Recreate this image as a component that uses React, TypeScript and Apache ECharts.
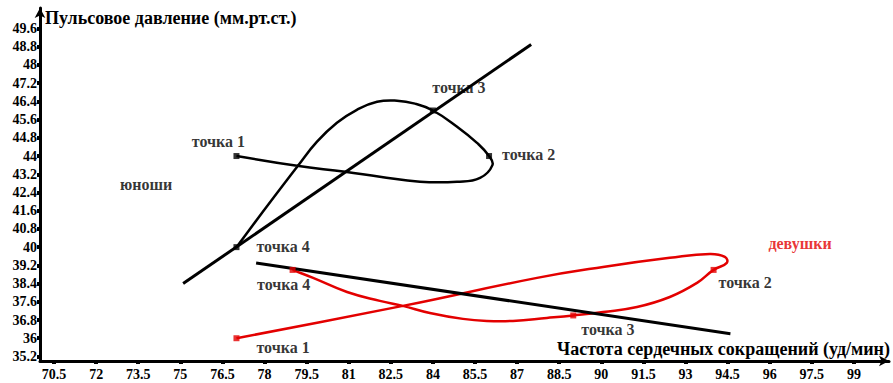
import React, { useEffect, useRef } from "react";
import * as echarts from "echarts";

// Axis tick values
const xTicks = [70.5, 72, 73.5, 75, 76.5, 78, 79.5, 81, 82.5, 84, 85.5, 87, 88.5, 90, 91.5, 93, 94.5, 96, 97.5, 99];
const yTicks = [35.2, 36, 36.8, 37.6, 38.4, 39.2, 40, 40.8, 41.6, 42.4, 43.2, 44, 44.8, 45.6, 46.4, 47.2, 48, 48.8, 49.6];

// Point names
const pointNames = ["точка 1", "точка 2", "точка 3", "точка 4"];

// Юноши (boys): key points and traced curve
const boysPoints: [number, number][] = [[77, 44], [86, 44], [84, 46], [77, 40]];
const boysCurve: [number, number][] = [
  [77, 44], [79.16, 43.57], [80.87, 43.31], [82.11, 43.09], [83.54, 42.87],
  [84.86, 42.87], [85.68, 43.04], [86.12, 43.6], [86, 44], [85.57, 44.58],
  [84.86, 45.29], [84, 46], [83.36, 46.3], [82.72, 46.43], [82.01, 46.38],
  [81.29, 46.03], [80.58, 45.46], [79.87, 44.63], [79.19, 43.57],
  [77.94, 41.55], [77, 40],
];
const boysTrend: [number, number][] = [[75.1, 38.4], [87.5, 48.9]];

// Девушки (girls): key points and traced curve
const girlsPoints: [number, number][] = [[77, 36], [94, 39], [89, 37], [79, 39]];
const girlsCurve: [number, number][] = [
  [77, 36], [82.93, 37.42], [87.71, 38.65], [90.06, 39.13], [92.44, 39.53],
  [93.87, 39.7], [94.4, 39.57], [94.47, 39.31], [94, 39], [93.41, 38.43],
  [92.44, 37.81], [91.27, 37.37], [90.06, 37.15], [89, 37], [88.06, 36.89],
  [86.85, 36.76], [85.92, 36.76], [85.07, 36.85], [83.89, 37.11], [82.93, 37.42],
  [82.11, 37.64], [80.94, 38.03], [79.73, 38.65], [79, 39],
];
const girlsTrend: [number, number][] = [[77.7, 39.3], [94.6, 36.2]];

// Group captions
const groupNames = ["юноши", "девушки"];
const groupCaptionAt: [number, number][] = [[73.78, 42.74], [97.08, 40.14]];

const RED = "#e30000";
const FONT = "Liberation Serif";

const boysLabelStyle = [
  { position: "top", offset: [-18, 1] },
  { position: "right", offset: [5, -2] },
  { position: "top", offset: [26, -7] },
  { position: "right", offset: [12, -1] },
];
const girlsLabelStyle = [
  { position: "right", offset: [12, 9] },
  { position: "right", offset: [-3, 13] },
  { position: "right", offset: [0, 14] },
  { position: "bottom", offset: [-9, -1] },
];

const fmt = (v: number) => String(+Number(v).toFixed(1));

// Smooth curve through the given data points (rendered from axis coordinates)
function curveSeries(pts: [number, number][], color: string) {
  return {
    type: "custom",
    coordinateSystem: "cartesian2d",
    data: pts,
    encode: { x: 0, y: 1 },
    z: 2,
    silent: true,
    renderItem: (params: any, api: any) => {
      if (params.dataIndex !== 0) return null;
      const P = pts.map((p) => api.coord(p) as number[]);
      const n = P.length;
      const s = 0.45;
      const dist = (a: number[], b: number[]) => Math.hypot(b[0] - a[0], b[1] - a[1]);
      const outCp: number[][] = [];
      const inCp: number[][] = [];
      for (let i = 0; i < n; i++) {
        const prev = P[Math.max(0, i - 1)];
        const next = P[Math.min(n - 1, i + 1)];
        const tx = next[0] - prev[0];
        const ty = next[1] - prev[1];
        const dPrev = i > 0 ? dist(P[i - 1], P[i]) : 0;
        const dNext = i < n - 1 ? dist(P[i], P[i + 1]) : 0;
        const tot = dPrev + dNext || 1;
        outCp[i] = [P[i][0] + tx * s * (dNext / tot), P[i][1] + ty * s * (dNext / tot)];
        inCp[i] = [P[i][0] - tx * s * (dPrev / tot), P[i][1] - ty * s * (dPrev / tot)];
      }
      let d = `M${P[0][0]},${P[0][1]}`;
      for (let i = 0; i < n - 1; i++) {
        d += ` C${outCp[i][0]},${outCp[i][1]} ${inCp[i + 1][0]},${inCp[i + 1][1]} ${P[i + 1][0]},${P[i + 1][1]}`;
      }
      return {
        type: "path",
        shape: { pathData: d },
        style: { fill: "none", stroke: color, lineWidth: 2.5 },
      };
    },
  };
}

export default function App() {
  const ref = useRef<HTMLDivElement>(null);
  useEffect(() => {
    document.body.style.margin = "0";
    const chart = echarts.init(ref.current!, undefined, { renderer: "svg" });
    const labelText = { fontFamily: FONT, fontWeight: "bold" as const, fontSize: 16, color: "#000" };
    const pointSeries = (pts: [number, number][], styles: any[], color: string) => ({
      type: "scatter",
      symbol: "rect",
      symbolSize: 6,
      itemStyle: { color },
      z: 5,
      data: pts.map((p, i) => ({
        name: pointNames[i],
        value: p,
        label: { show: true, formatter: "{b}", ...labelText, ...styles[i] },
      })),
    });
    chart.setOption({
      animation: false,
      backgroundColor: "#fff",
      grid: { left: 40, right: 4, top: 8, bottom: 22 },
      xAxis: {
        type: "value",
        min: 70,
        max: 100.25,
        name: "Частота сердечных сокращений (уд/мин)",
        nameLocation: "end",
        nameGap: 1,
        nameTextStyle: {
          fontFamily: FONT, fontWeight: "bold", fontSize: 18, color: "#000",
          align: "right", verticalAlign: "bottom", padding: [0, 0, 3, 0],
        },
        axisLine: { lineStyle: { color: "#000", width: 3 }, symbol: ["none", "arrow"], symbolSize: [8, 10] },
        axisTick: { customValues: xTicks, length: 3, lineStyle: { color: "#000", width: 4 } },
        axisLabel: {
          customValues: xTicks, formatter: fmt, margin: 6,
          fontFamily: FONT, fontWeight: "bold", fontSize: 14, color: "#000",
        },
        splitLine: { show: false },
      },
      yAxis: {
        type: "value",
        min: 35,
        max: 50.5,
        name: "Пульсовое давление (мм.рт.ст.)",
        nameLocation: "end",
        nameGap: -1,
        nameTextStyle: {
          fontFamily: FONT, fontWeight: "bold", fontSize: 18, color: "#000",
          align: "left", verticalAlign: "top", padding: [0, 0, 0, 5],
        },
        axisLine: { lineStyle: { color: "#000", width: 3 }, symbol: ["none", "arrow"], symbolSize: [8, 10] },
        axisTick: { customValues: yTicks, length: 3, lineStyle: { color: "#000", width: 4 } },
        axisLabel: {
          customValues: yTicks, formatter: fmt, margin: 3,
          fontFamily: FONT, fontWeight: "bold", fontSize: 14, color: "#000",
        },
        splitLine: { show: false },
      },
      series: [
        curveSeries(girlsCurve, RED),
        curveSeries(boysCurve, "#000"),
        {
          type: "line", data: boysTrend, showSymbol: false,
          lineStyle: { color: "#000", width: 3 }, z: 3,
        },
        {
          type: "line", data: girlsTrend, showSymbol: false,
          lineStyle: { color: "#000", width: 3 }, z: 3,
        },
        pointSeries(boysPoints, boysLabelStyle, "#000"),
        pointSeries(girlsPoints, girlsLabelStyle, RED),
        {
          type: "scatter",
          symbolSize: 0,
          data: groupNames.map((n, i) => ({
            name: n,
            value: groupCaptionAt[i],
            label: {
              show: true, formatter: "{b}", position: "inside",
              ...labelText, color: i === 0 ? "#000" : RED,
            },
          })),
        },
      ],
    });
    return () => chart.dispose();
  }, []);
  return <div ref={ref} style={{ width: 893, height: 383 }} />;
}
